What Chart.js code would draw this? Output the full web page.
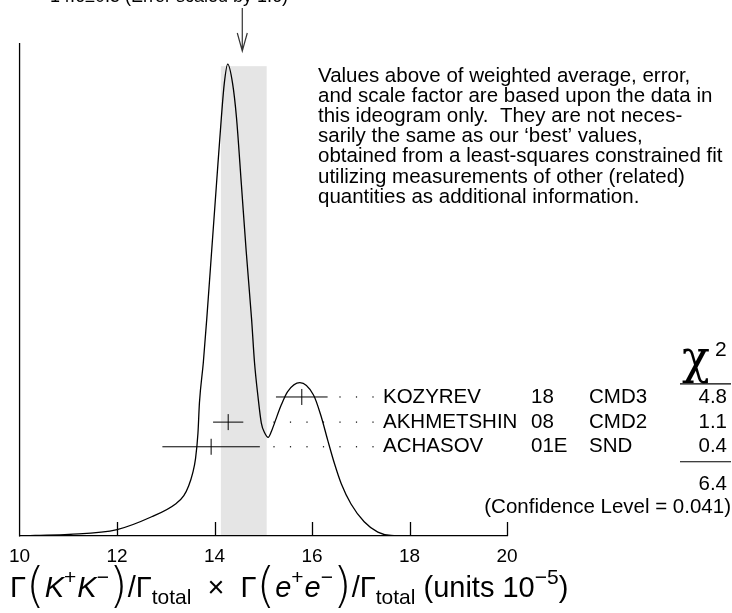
<!DOCTYPE html>
<html>
<head>
<meta charset="utf-8">
<script src="https://cdn.jsdelivr.net/npm/chart.js@4.4.0/dist/chart.umd.min.js"></script>
<style>
html, body { margin: 0; padding: 0; background: #fff; }
#wrap { position: relative; width: 732px; height: 613px; }
</style>
</head>
<body>
<div id="wrap"><canvas id="ideogram"></canvas></div>
<script>
// ideogram curve (relative height, top of left axis = 1)
var curveX = [10.00, 10.32, 11.01, 12.00, 12.71, 13.20, 13.37, 13.47, 13.55, 13.61, 13.66, 13.69, 13.77, 13.84, 13.94, 14.04, 14.14, 14.20, 14.27,
              14.37, 14.45, 14.55, 14.65, 14.76, 14.82, 14.89, 14.96, 15.03, 15.10, 15.17, 15.23, 15.37, 15.50, 15.75,
              16.03, 16.18, 16.32, 16.46, 16.60, 16.80, 17.07, 17.35, 17.62, 17.96, 20.00];
var curveY = [0.000, 0.001, 0.003, 0.013, 0.039, 0.065, 0.082, 0.102, 0.127, 0.157, 0.209, 0.270, 0.352, 0.440, 0.577, 0.714, 0.849, 0.918, 0.957,
              0.918, 0.849, 0.714, 0.577, 0.440, 0.352, 0.284, 0.229, 0.209, 0.200, 0.213, 0.229, 0.266, 0.293, 0.311,
              0.286, 0.245, 0.195, 0.147, 0.106, 0.065, 0.029, 0.008, 0.001, 0.000, 0.000];

// measurements
var names = ['KOZYREV', 'AKHMETSHIN', 'ACHASOV'];
var years = ['18', '08', '01E'];
var experiments = ['CMD3', 'CMD2', 'SND'];
var values = [15.79, 14.28, 13.93];
var errors = [0.53, 0.31, 1.00];
var rowY = [0.282, 0.231, 0.181];
var chi2 = ['4.8', '1.1', '0.4'];
var chi2Total = '6.4';
var confLevel = '0.041';

// weighted average
var avgValue = 14.6;
var avgError = 0.47;
var scaleFactor = 1.6;
var bandTop = 0.953;

var xTicks = [10, 12, 14, 16, 18, 20];

var noteLines = [
	'Values above of weighted average, error,',
	'and scale factor are based upon the data in',
	'this ideogram only.  They are not neces-',
	'sarily the same as our \u2018best\u2019 values,',
	'obtained from a least-squares constrained fit',
	'utilizing measurements of other (related)',
	'quantities as additional information.'
];

var SANS = '"Liberation Sans", Arial, sans-serif';

function drawRuns(ctx, runs, x, base) {
	runs.forEach(function(r) {
		ctx.font = r.font;
		ctx.fillText(r.t, x, base + (r.dy || 0));
		x += ctx.measureText(r.t).width + (r.gap || 0);
	});
}

var overlay = {
	id: 'overlay',
	beforeDraw: function(chart) {
		var ctx = chart.ctx, xs = chart.scales.x, ys = chart.scales.y;
		// shaded band = average +/- error
		var x0 = xs.getPixelForValue(avgValue - avgError);
		var x1 = xs.getPixelForValue(avgValue + avgError);
		var yt = ys.getPixelForValue(bandTop);
		var yb = ys.getPixelForValue(0);
		ctx.save();
		ctx.fillStyle = '#e5e5e5';
		ctx.fillRect(x0, yt, x1 - x0, yb - yt);
		ctx.restore();
	},
	afterDraw: function(chart) {
		var ctx = chart.ctx, xs = chart.scales.x, ys = chart.scales.y, area = chart.chartArea;
		ctx.save();
		ctx.strokeStyle = '#000';
		ctx.fillStyle = '#000';

		// left axis
		ctx.lineWidth = 1.3;
		ctx.beginPath();
		ctx.moveTo(area.left, area.top);
		ctx.lineTo(area.left, area.bottom + 0.6);
		ctx.stroke();

		// inward tick marks
		xTicks.forEach(function(v) {
			if (v === xs.min) return;
			var px = Math.round(xs.getPixelForValue(v)) + 0.5;
			ctx.beginPath();
			ctx.moveTo(px, area.bottom);
			ctx.lineTo(px, area.bottom - 14);
			ctx.stroke();
		});

		// arrow at weighted average
		var ax = xs.getPixelForValue(avgValue) - 1.5;
		ctx.strokeStyle = '#333';
		ctx.lineWidth = 1.2;
		ctx.beginPath();
		ctx.moveTo(ax, 8);
		ctx.lineTo(ax, 51);
		ctx.moveTo(ax - 5, 33);
		ctx.lineTo(ax, 51);
		ctx.lineTo(ax + 5, 33);
		ctx.stroke();

		// average text (runs off the top)
		ctx.font = '18px ' + SANS;
		ctx.textBaseline = 'alphabetic';
		ctx.fillText(avgValue.toFixed(1) + '\u00b10.5 (Error scaled by ' + scaleFactor.toFixed(1) + ')', 50, 1.5);

		// dotted leaders and measurement labels
		ctx.fillStyle = '#000';
		ctx.font = '20.5px ' + SANS;
		ctx.textBaseline = 'middle';
		for (var i = 0; i < names.length; i++) {
			var py = ys.getPixelForValue(rowY[i]);
			var barEnd = xs.getPixelForValue(values[i] + errors[i]);
			for (var dx = 373; dx > Math.max(barEnd + 10, 270); dx -= 16.5) {
				ctx.fillRect(dx - 0.6, py - 0.6, 1.2, 1.2);
			}
			ctx.textAlign = 'left';
			ctx.fillText(names[i], 383, py);
			ctx.fillText(years[i], 531, py);
			ctx.fillText(experiments[i], 589, py);
			ctx.textAlign = 'right';
			ctx.fillText(chi2[i], 727, py);
		}

		// chi2 column
		var y1 = ys.getPixelForValue(rowY[0]);
		var y3 = ys.getPixelForValue(rowY[2]);
		ctx.lineWidth = 1.2;
		ctx.strokeStyle = '#000';
		ctx.beginPath();
		ctx.moveTo(680, y1 - 13);
		ctx.lineTo(731, y1 - 13);
		ctx.moveTo(680, y3 + 15);
		ctx.lineTo(731, y3 + 15);
		ctx.stroke();
		ctx.textAlign = 'left';
		ctx.textBaseline = 'alphabetic';
		ctx.font = '46px "DejaVu Serif", serif';
		ctx.fillText('\u03c7', 682, y1 - 24);
		ctx.font = '21px ' + SANS;
		ctx.fillText('2', 715, y1 - 41);
		ctx.textAlign = 'right';
		ctx.textBaseline = 'middle';
		ctx.font = '20.5px ' + SANS;
		ctx.fillText(chi2Total, 727, y3 + 38);
		ctx.fillText('(Confidence Level = ' + confLevel + ')', 731, y3 + 61);

		// note text block
		ctx.textAlign = 'left';
		ctx.textBaseline = 'middle';
		noteLines.forEach(function(t, k) {
			ctx.fillText(t, 318, 76 + k * 20.2);
		});

		// x axis title
		ctx.textBaseline = 'alphabetic';
		var F = '29px ' + SANS, FI = 'italic 29px ' + SANS, FS = '21px ' + SANS, FP = '200 48px "DejaVu Sans", sans-serif';
		drawRuns(ctx, [
			{t: '\u0393', font: F},
			{t: '(', font: FP, dy: 5},
			{t: 'K', font: FI},
			{t: '+', font: FS, dy: -13, gap: 1},
			{t: 'K', font: FI},
			{t: '\u2212', font: FS, dy: -13},
			{t: ')', font: FP, dy: 5},
			{t: '/\u0393', font: F},
			{t: 'total', font: FS, dy: 7},
			{t: '  \u00d7  ', font: F},
			{t: '\u0393', font: F},
			{t: '(', font: FP, dy: 5},
			{t: 'e', font: FI},
			{t: '+', font: FS, dy: -13, gap: 1},
			{t: 'e', font: FI},
			{t: '\u2212', font: FS, dy: -13},
			{t: ')', font: FP, dy: 5},
			{t: '/\u0393', font: F},
			{t: 'total', font: FS, dy: 7},
			{t: ' (units 10', font: F},
			{t: '\u22125', font: FS, dy: -13},
			{t: ')', font: F}
		], 10, 597);

		ctx.restore();
	}
};

var curveData = curveX.map(function(v, i) { return {x: v, y: curveY[i]}; });

var datasets = [{
	type: 'line',
	data: curveData,
	borderColor: '#000',
	borderWidth: 1.3,
	pointRadius: 0,
	cubicInterpolationMode: 'monotone',
	fill: false
}];

// error bars with a short vertical mark at the central value
for (var i = 0; i < values.length; i++) {
	datasets.push({
		type: 'line',
		data: [{x: values[i] - errors[i], y: rowY[i]}, {x: values[i] + errors[i], y: rowY[i]}],
		borderColor: '#000',
		borderWidth: 1,
		pointRadius: 0,
		fill: false
	});
	datasets.push({
		type: 'scatter',
		data: [{x: values[i], y: rowY[i]}],
		pointStyle: 'line',
		rotation: 90,
		pointRadius: 8,
		borderColor: '#000',
		borderWidth: 1
	});
}

new Chart('ideogram', {
	type: 'line',
	data: { datasets: datasets },
	plugins: [overlay],
	options: {
		responsive: true,
		maintainAspectRatio: false,
		animation: false,
		events: [],
		layout: { padding: { left: 17, right: 225, top: 43, bottom: 0 } },
		plugins: { legend: { display: false }, tooltip: { enabled: false } },
		scales: {
			x: {
				type: 'linear',
				min: 10,
				max: 20,
				afterBuildTicks: function(scale) {
					scale.ticks = xTicks.map(function(v) { return {value: v}; });
				},
				afterFit: function(scale) { scale.height = 77; },
				grid: { display: false, drawTicks: false },
				border: { display: true, color: '#000', width: 1.3 },
				ticks: { color: '#000', font: { family: SANS, size: 19 }, padding: 9, maxRotation: 0 }
			},
			y: {
				display: false,
				min: 0,
				max: 1
			}
		}
	}
});
</script>
</body>
</html>
